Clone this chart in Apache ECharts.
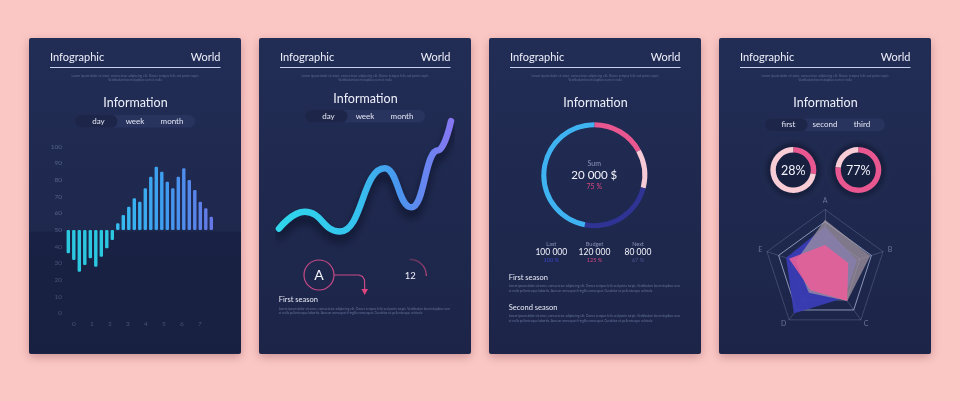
<!DOCTYPE html>
<html><head><meta charset="utf-8">
<script src="https://cdn.jsdelivr.net/npm/echarts@6/dist/echarts.min.js"></script>
<style>html,body{margin:0;padding:0;background:#fbc7c4;}#c{width:960px;height:401px;}</style>
</head><body><div id="c"></div>
<script>
// ---------- data ----------
const barValues = [36,32,25,29,33,28,34,39,44,54,59,64,69,67,75,82,88,85,79,75,82,87,80,74,67,63,58];
const barBaseline = 50;
const yTickMin = 0, yTickMax = 100, yTickStep = 10;
const xTickLabels = ['0','1','2','3','4','5','6','7'];
const waveX = [0, 15, 35.5, 61.5, 77, 92.5, 100];
const waveY = [3, 18, 0.5, 57, 22, 73, 99];
const ringNames = ['pink','light pink','dark blue','light blue'];
const ringValues = [17, 12, 24, 47];
const gaugeValues = [28, 77];
const radarAxes = ['A','B','C','D','E'];
const radarBlue = [0.72, 0.55, 0.55, 0.87, 0.67];
const radarGray = [0.83, 0.78, 0.62, 0.45, 0.5];
const radarPink = [0.42, 0.4, 0.62, 0.4, 0.62];
const budgetLabels = ['Last','Budget','Next'];
const budgetValues = ['100 000','120 000','80 000'];
const budgetPercents = ['100 %','125 %','67 %'];
const tabsA = ['day','week','month'];
const tabsB = ['first','second','third'];

// ---------- layout helpers ----------
const FONT = 'Lato, "Noto Sans", sans-serif';
const panelX = [29, 259, 489, 719];
const PW = 212, PT = 38, PH = 316;
const lorem = 'Lorem ipsum dolor sit amet, consectetur adipiscing elit. Donec tempus felis sed porta turpis. Vestibulum lorem dapibus sem';
const lorem2 = 'et nulla pellentesque lobortis. Aenean consequat fringilla consequat. Curabitur ut pellentesque vehicula';
const g = [];
function txt(x, y, s, size, color, align, weight) {
  g.push({type:'text', z:10, silent:true, style:{text:s, x:x, y:y, fill:color, fontSize:size, fontFamily:FONT,
    fontWeight: weight||'normal', align: align||'left', verticalAlign:'middle'}});
}
panelX.forEach(function(px){
  g.push({type:'rect', z:0, silent:true, shape:{x:px, y:PT, width:PW, height:PH, r:2},
    style:{fill:{type:'linear',x:0,y:0,x2:0,y2:1,colorStops:[{offset:0,color:'#222d56'},{offset:1,color:'#1c2548'}]},
      shadowBlur:10, shadowColor:'rgba(110,50,60,0.35)', shadowOffsetY:3}});
  txt(px+21, 57, 'Infographic', 11, '#eef0fb');
  txt(px+191.5, 57, 'World', 11, '#eef0fb', 'right');
  g.push({type:'line', z:5, silent:true, shape:{x1:px+21, y1:67.5, x2:px+191.5, y2:67.5}, style:{stroke:'#c9d0ee', lineWidth:1}});
  txt(px+106, 75.8, lorem.slice(0, 92), 3.2, '#5d6a92', 'center');
  txt(px+106, 79.8, 'Vestibulum lorem dapibus sem et nulla', 3.2, '#5d6a92', 'center');
});
// titles
txt(135.5, 103, 'Information', 12.5, '#eef0fb', 'center');
txt(365.5, 98.5, 'Information', 12.5, '#eef0fb', 'center');
txt(595.5, 102.5, 'Information', 12.5, '#eef0fb', 'center');
txt(825.5, 103, 'Information', 12.5, '#eef0fb', 'center');
// tabs
function tabs(px, cy, labels) {
  g.push({type:'rect', z:2, silent:true, shape:{x:px+46, y:cy-6.3, width:120, height:12.6, r:6.3}, style:{fill:'#28335e'}});
  g.push({type:'rect', z:3, silent:true, shape:{x:px+46, y:cy-6.3, width:42.5, height:12.6, r:6.3}, style:{fill:'#1d2649'}});
  const xs = [px+69.5, px+106, px+143];
  labels.forEach(function(l, i){ txt(xs[i], cy, l, 8, '#e4e7f5', 'center'); });
}
tabs(29, 121.3, tabsA);
tabs(259, 116.3, tabsA);
tabs(719, 124.7, tabsB);
// panel 1 darker lower band
g.push({type:'rect', z:1, silent:true, shape:{x:29, y:231.5, width:PW, height:353-231.5}, style:{fill:'rgba(8,12,30,0.18)'}});
// panel 2 decorations
g.push({type:'circle', z:5, silent:true, shape:{cx:319, cy:275, r:15}, style:{fill:'none', stroke:'#c64a86', lineWidth:1.2}});
txt(319, 275.5, 'A', 14, '#f2f2fa', 'center');
g.push({type:'polyline', z:5, silent:true, shape:{points:[[334,275],[359,275],[362.5,276.5],[364.5,280],[364.7,289]]}, style:{stroke:'#c64a86', lineWidth:1.2, fill:'none'}});
g.push({type:'polygon', z:5, silent:true, shape:{points:[[361.5,289],[368,289],[364.7,295]]}, style:{fill:'#e0447f'}});
g.push({type:'arc', z:5, silent:true, shape:{cx:410.3, cy:275.5, r:16, startAngle:-Math.PI/2-0.05, endAngle:0.03, clockwise:true},
  style:{stroke:{type:'linear',x:0,y:0,x2:1,y2:1,colorStops:[{offset:0,color:'rgba(200,70,120,0.25)'},{offset:1,color:'#c84a7e'}]}, lineWidth:1.3, fill:'none'}});
txt(410.3, 275.5, '12', 9.5, '#eef0fb', 'center');
txt(278.7, 299.3, 'First season', 7.5, '#e8eaf6');
txt(278.7, 309, lorem, 3.2, '#66739a');
txt(278.7, 313.3, lorem2, 3.2, '#66739a');
// panel 3 texts
txt(594.3, 163.7, 'Sum', 7, '#8c95b8', 'center');
txt(594.3, 175.3, '20 000 $', 11.5, '#f2f3fb', 'center');
txt(594.3, 187, '75 %', 7, '#d8457f', 'center');
const colX = [551.3, 594.5, 638];
const pctCol = ['#3b45c4', '#d8457f', '#4a5892'];
budgetLabels.forEach(function(l,i){
  txt(colX[i], 244.3, l, 5.5, '#8890b2', 'center');
  txt(colX[i], 252.7, budgetValues[i], 8.5, '#f2f3fb', 'center');
  txt(colX[i], 260.3, budgetPercents[i], 5.5, pctCol[i], 'center');
});
txt(508.7, 277.7, 'First season', 7.5, '#e8eaf6');
txt(508.7, 286.3, lorem, 3.2, '#66739a');
txt(508.7, 291, lorem2, 3.2, '#66739a');
txt(508.7, 307.7, 'Second season', 7.5, '#e8eaf6');
txt(508.7, 316.3, lorem, 3.2, '#66739a');
txt(508.7, 321, lorem2, 3.2, '#66739a');
// panel 4 donut halos
[[793.3,170],[858.3,170]].forEach(function(c){
  g.push({type:'circle', z:1, silent:true, shape:{cx:c[0], cy:c[1], r:25.5}, style:{fill:'#182040', shadowBlur:6, shadowColor:'rgba(5,8,20,0.6)'}});
});
txt(793.3, 170.5, gaugeValues[0] + '%', 12.5, '#f2f3fb', 'center');
txt(858.3, 170.5, gaugeValues[1] + '%', 12.5, '#f2f3fb', 'center');

// ---------- bar data via stacking ----------
const barBase = barValues.map(function(v){ return Math.min(v, barBaseline); });
const barSpan = barValues.map(function(v){
  return {value: Math.abs(v - barBaseline), itemStyle:{color: v < barBaseline ? '#2bc8e0' :
    {type:'linear', x:118, y:0, x2:212, y2:0, global:true, colorStops:[{offset:0,color:'#35bdf0'},{offset:0.5,color:'#3f9cf0'},{offset:1,color:'#6677e6'}]}}};
});
const cats = barValues.map(function(v,i){ return String(i); });
// radar draws indicators counter-clockwise; reorder so A,B,C,D,E run clockwise
const radarOrder = [0, 4, 3, 2, 1];
function ro(arr){ return radarOrder.map(function(i){ return arr[i]; }); }

const chart = echarts.init(document.getElementById('c'), null, {renderer:'canvas'});
chart.setOption({
  animation:false,
  backgroundColor:'#fbc7c4',
  graphic: g,
  grid:[
    {left:65.55, top:146.7, width:148.5, height:166.6},
    {left:74, top:300, width:126, height:13.3},
    {left:279, top:120, width:172, height:112}
  ],
  xAxis:[
    {gridIndex:0, type:'category', data:cats, axisLine:{show:false}, axisTick:{show:false}, axisLabel:{show:false}},
    {gridIndex:1, type:'category', data:xTickLabels, boundaryGap:false, axisLine:{show:false}, axisTick:{show:false},
      axisLabel:{color:'#55628a', fontSize:6.5, margin:7, fontFamily:FONT}},
    {gridIndex:2, type:'value', min:0, max:100, show:false}
  ],
  yAxis:[
    {gridIndex:0, type:'value', min:yTickMin, max:yTickMax, interval:yTickStep, splitLine:{show:false}, axisLine:{show:false}, axisTick:{show:false},
      axisLabel:{color:'#55628a', fontSize:6.5, margin:3.5, fontFamily:FONT}},
    {gridIndex:1, type:'value', show:false},
    {gridIndex:2, type:'value', min:0, max:100, show:false}
  ],
  radar:{
    center:[825, 270.5], radius:61, startAngle:90, splitNumber:5, shape:'polygon',
    indicator: ro(radarAxes).map(function(n){ return {name:n, max:1, min:0}; }),
    axisName:{color:'#6a7499', fontSize:7, fontFamily:FONT}, nameGap:5,
    splitArea:{show:false},
    splitLine:{lineStyle:{color:['rgba(160,172,210,0.25)','rgba(160,172,210,0.25)','rgba(160,172,210,0.25)','rgba(160,172,210,0.35)','rgba(175,185,220,0.75)'], width:1}},
    axisLine:{lineStyle:{color:'rgba(160,172,210,0.25)'}}
  },
  series:[
    {type:'bar', xAxisIndex:0, yAxisIndex:0, stack:'b', data:barBase, itemStyle:{color:'transparent'}, barWidth:3.4, silent:true},
    {type:'bar', xAxisIndex:0, yAxisIndex:0, stack:'b', data:barSpan, barWidth:3.4, itemStyle:{borderRadius:1.2}, silent:true},
    {type:'line', xAxisIndex:2, yAxisIndex:2, data: waveX.map(function(x,i){ return [x, waveY[i]]; }), smooth:0.5, smoothMonotone:'x', clip:false,
      symbol:'none', silent:true,
      lineStyle:{width:6.5, cap:'round', shadowBlur:10, shadowColor:'rgba(5,8,25,0.7)', shadowOffsetY:7,
        color:{type:'linear', x:279, y:0, x2:451, y2:0, global:true, colorStops:[{offset:0,color:'#2fd6ec'},{offset:0.45,color:'#35c3ee'},{offset:0.7,color:'#4a94ef'},{offset:1,color:'#8577f2'}]}}},
    {type:'pie', center:[594.3,175.2], radius:[48,53], startAngle:90, clockwise:true, silent:true, label:{show:false},
      data: ringValues.map(function(v,i){ return {name:ringNames[i], value:v}; }),
      color:['#e8578f','#f6cbd6','#2e3394','#3fb3f2']},
    {type:'pie', center:[793.3,170], radius:[17.5,23], startAngle:90, clockwise:true, silent:true, label:{show:false},
      data:[{value:gaugeValues[0]},{value:100-gaugeValues[0]}], color:['#e8578f','#f8cdd6']},
    {type:'pie', center:[858.3,170], radius:[17.5,23], startAngle:90, clockwise:true, silent:true, label:{show:false},
      data:[{value:gaugeValues[1]},{value:100-gaugeValues[1]}], color:['#e8578f','#f8cdd6']},
    {type:'radar', symbol:'none', silent:true, data:[
      {value:ro(radarBlue), lineStyle:{width:0}, areaStyle:{color:'#3a3cb4', opacity:0.95}},
      {value:ro(radarGray), lineStyle:{width:0}, areaStyle:{color:'#a89aa4', opacity:0.7}},
      {value:ro(radarPink), lineStyle:{width:0}, areaStyle:{color:'#ea5f98', opacity:0.88}}
    ]}
  ]
});
</script></body></html>
